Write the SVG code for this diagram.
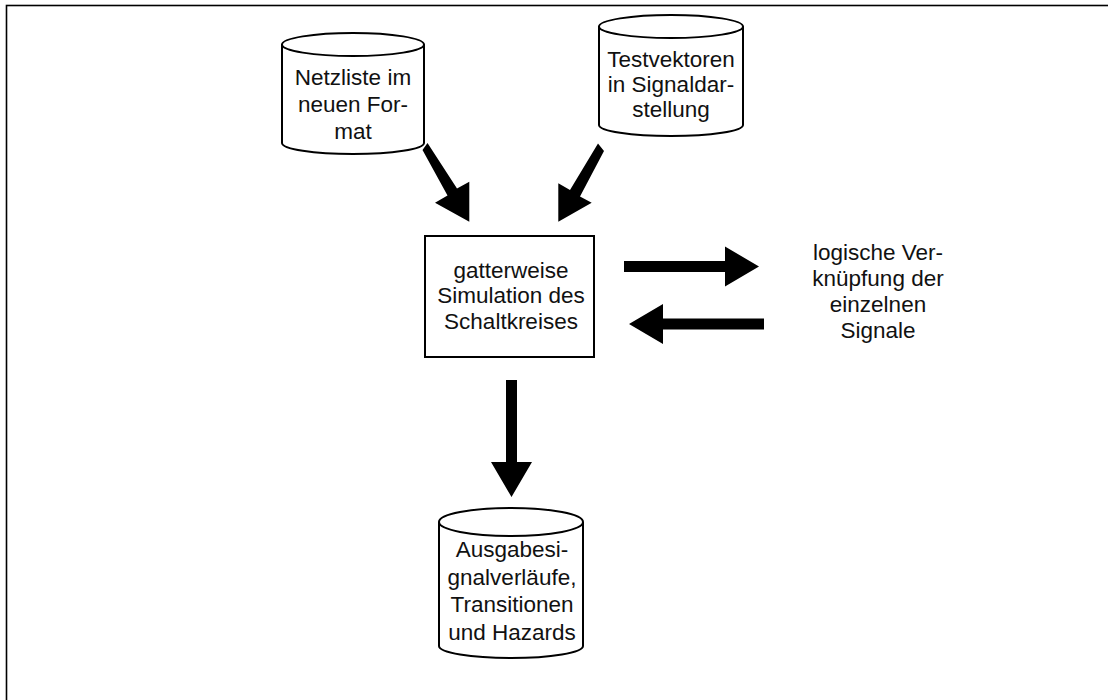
<svg xmlns="http://www.w3.org/2000/svg" width="1108" height="700" viewBox="0 0 1108 700">
  <defs>
    <style>
      .frame { fill: none; stroke: #000; stroke-width: 1.6; }
      .shape { fill: #fff; stroke: #000; stroke-width: 2; }
      .lid { fill: none; stroke: #000; stroke-width: 2; }
      .lbl { font-family: "Liberation Sans", Arial, sans-serif; font-size: 22.5px; fill: #111; text-anchor: middle; }
      .arrow { fill: #000; stroke: none; }
    </style>
    <!-- block arrow pointing along +x, tip at origin -->
    <path id="blockArrow" d="M -135 -5.5 L -34 -5.5 L -34 -20 L 0 0 L -34 20 L -34 5.5 L -135 5.5 Z"/>
  </defs>

  <rect class="frame" x="6.5" y="5.5" width="1200" height="800"/>

  <!-- data store: netlist -->
  <g id="netzliste">
    <path class="shape" d="M 282 44.5 L 282 143 A 71 11 0 0 0 424 143 L 424 44.5 A 71 11.5 0 0 0 282 44.5 Z"/>
    <path class="lid" d="M 282 44.5 A 71 11.5 0 0 0 424 44.5"/>
    <text class="lbl" x="353" y="85">Netzliste im</text>
    <text class="lbl" x="353" y="112">neuen For-</text>
    <text class="lbl" x="353" y="139">mat</text>
  </g>

  <!-- data store: test vectors -->
  <g id="testvektoren">
    <path class="shape" d="M 599 26.5 L 599 125 A 72 11 0 0 0 743 125 L 743 26.5 A 72 11.5 0 0 0 599 26.5 Z"/>
    <path class="lid" d="M 599 26.5 A 72 11.5 0 0 0 743 26.5"/>
    <text class="lbl" x="671" y="67">Testvektoren</text>
    <text class="lbl" x="671" y="92">in Signaldar-</text>
    <text class="lbl" x="671" y="117">stellung</text>
  </g>

  <!-- process: gate-level simulation -->
  <g id="simulation">
    <rect class="shape" x="425" y="236" width="169" height="121"/>
    <text class="lbl" x="511" y="277.5">gatterweise</text>
    <text class="lbl" x="511" y="303">Simulation des</text>
    <text class="lbl" x="511" y="328.5">Schaltkreises</text>
  </g>

  <!-- annotation: logic combination -->
  <g id="verknuepfung">
    <text class="lbl" x="878" y="260">logische Ver-</text>
    <text class="lbl" x="878" y="286">knüpfung der</text>
    <text class="lbl" x="878" y="311.5">einzelnen</text>
    <text class="lbl" x="878" y="337.5">Signale</text>
  </g>

  <!-- data store: outputs -->
  <g id="ausgabe">
    <path class="shape" d="M 439 522 L 439 646 A 72 12 0 0 0 583 646 L 583 522 A 72 14 0 0 0 439 522 Z"/>
    <path class="lid" d="M 439 522 A 72 14 0 0 0 583 522"/>
    <text class="lbl" x="512" y="557">Ausgabesi-</text>
    <text class="lbl" x="512" y="585">gnalverläufe,</text>
    <text class="lbl" x="512" y="612">Transitionen</text>
    <text class="lbl" x="512" y="640">und Hazards</text>
  </g>

  <g id="connectors" class="arrow">
    <!-- netlist -> simulation -->
    <path d="M 422.5 150 L 427.5 143 L 457 188.5 L 469.3 181.7 L 469.3 221.7 L 435 202.7 L 447.5 195.5 Z"/>
    <!-- test vectors -> simulation -->
    <path d="M 598 143.5 L 604 151 L 580 196.5 L 591.7 202.7 L 558.3 221.7 L 558.3 183.3 L 570 190 Z"/>
    <!-- simulation -> logic -->
    <use href="#blockArrow" transform="translate(759 266.5)"/>
    <!-- logic -> simulation -->
    <use href="#blockArrow" transform="translate(629 324) rotate(180)"/>
    <!-- simulation -> outputs -->
    <path d="M 506 380 L 517 380 L 517 462 L 532 462 L 511.5 497 L 491 462 L 506 462 Z"/>
  </g>
</svg>
